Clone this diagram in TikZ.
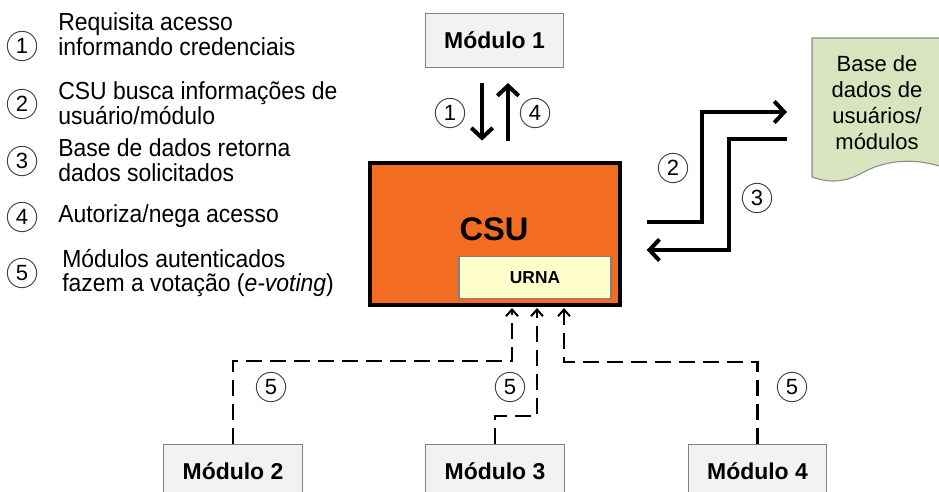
\documentclass[tikz,border=0pt]{standalone}
\usepackage{fontspec}
\setmainfont{Liberation Sans}
\newfontfamily\legendfont{Liberation Sans}[FakeStretch=0.93]
\usetikzlibrary{arrows.meta}

\definecolor{csuorange}{RGB}{242,108,33}
\definecolor{urnafill}{RGB}{255,255,204}
\definecolor{modfill}{RGB}{242,242,242}
\definecolor{modline}{RGB}{128,128,128}
\definecolor{dbfill}{RGB}{215,228,189}
\definecolor{dbline}{RGB}{140,140,140}

\begin{document}
\begin{tikzpicture}[x=0.75pt,y=-0.75pt,
  numc/.style={circle, draw=black!75, line width=0.7pt, inner sep=0pt,
    minimum size=22pt, font=\fontsize{16.5}{16}\selectfont},
  legend/.style={anchor=west, align=left, inner sep=0pt,
    font=\legendfont\fontsize{18.5}{18.5}\selectfont},
  modbox/.style={draw=modline, fill=modfill, line width=0.8pt,
    minimum width=104pt, minimum height=41pt, inner sep=0pt,
    font=\bfseries\fontsize{17.2}{18}\selectfont},
  flow/.style={line width=3pt, -{Straight Barb[length=7.5pt,width=16pt]}},
  vote/.style={line width=2.2pt, dash pattern=on 12pt off 6pt,
    -{Straight Barb[length=5pt,width=9pt,line width=1.5pt]}}
]
\useasboundingbox (0,0) rectangle (939,492);
\clip (0,0) rectangle (939,492);

% legend
\node[numc] at (22,46) {1};
\node[legend] (l1) at (58,34) {Requisita acesso\\informando credenciais};
\node[numc] at (22,104) {2};
\node[legend] (l2) at (58,103) {CSU busca informações de\\usuário/módulo};
\node[numc] at (22,161) {3};
\node[legend] (l3) at (58,160) {Base de dados retorna\\dados solicitados};
\node[numc] at (22,217) {4};
\node[legend] (l4) at (58,216) {Autoriza/nega acesso};
\node[numc] at (22,273) {5};
\node[legend] (l5) at (62,273) {Módulos autenticados\\fazem a votação (\textit{e-voting})};

% modules
\node[modbox] (m1) at (494.5,40.5) {Módulo 1};
\node[modbox] (m2) at (233,471.5) {Módulo 2};
\node[modbox] (m3) at (495,471.5) {Módulo 3};
\node[modbox] (m4) at (757.5,471.5) {Módulo 4};

% central server
\node[draw=black, fill=csuorange, line width=2.6pt, minimum width=187.5pt,
  minimum height=106.5pt, inner sep=0pt] (csu) at (495,234) {};
\node[font=\bfseries\fontsize{24.5}{24}\selectfont, inner sep=0pt] (csul) at (494,229) {CSU};
\node[draw=modline, fill=urnafill, line width=0.8pt, minimum width=114pt,
  minimum height=31pt, inner sep=0pt, font=\bfseries\fontsize{13}{13}\selectfont]
  (urna) at (535,277.5) {URNA};

% user database (document shape)
\draw[draw=dbline, fill=dbfill, line width=0.8pt]
  (812,38) -- (945,38) -- (945,168)
  .. controls (915,157) and (885,160) .. (862,173)
  .. controls (842,184) and (826,182) .. (812,177) -- cycle;
\node[align=center, inner sep=0pt, font=\fontsize{16.5}{19.5}\selectfont]
  (db) at (877,103) {Base de\\dados de\\usuários/\\módulos};
\coordinate (dbin) at (787,112);
\coordinate (dbout) at (787,139);

% module 1 <-> CSU
\draw[flow, shorten <=11pt, shorten >=15.5pt] (m1.south -| 482,0) -- (csu.north -| 482,0);
\draw[flow, shorten <=15.5pt, shorten >=11pt] (csu.north -| 508,0) -- (m1.south -| 508,0);
\node[numc] at (450,113) {1};
\node[numc] at (535,113) {4};

% CSU <-> database
\draw[flow] ([shift={(25,-12)}]csu.east) -| (702,112) -- (dbin);
\draw[flow] (dbout) -| (729,250) -- ([shift={(25,16)}]csu.east);
\node[numc] at (673,168) {2};
\node[numc] at (757,198) {3};

% voting links
\coordinate (v1) at (512,361);
\coordinate (v2) at (537,416);
\coordinate (v3) at (564,362);
\draw[vote] (m2.north) |- (v1) -- ([yshift=-1pt]csu.south -| v1);
\draw[vote] (m3.north) |- (v2) -- ([yshift=-1pt]csu.south -| v2);
\draw[vote] (m4.north) |- (v3) -- ([yshift=-1pt]csu.south -| v3);
\node[numc] at (271,387) {5};
\node[numc] at (510,387) {5};
\node[numc] at (792,387) {5};
\end{tikzpicture}
\end{document}
